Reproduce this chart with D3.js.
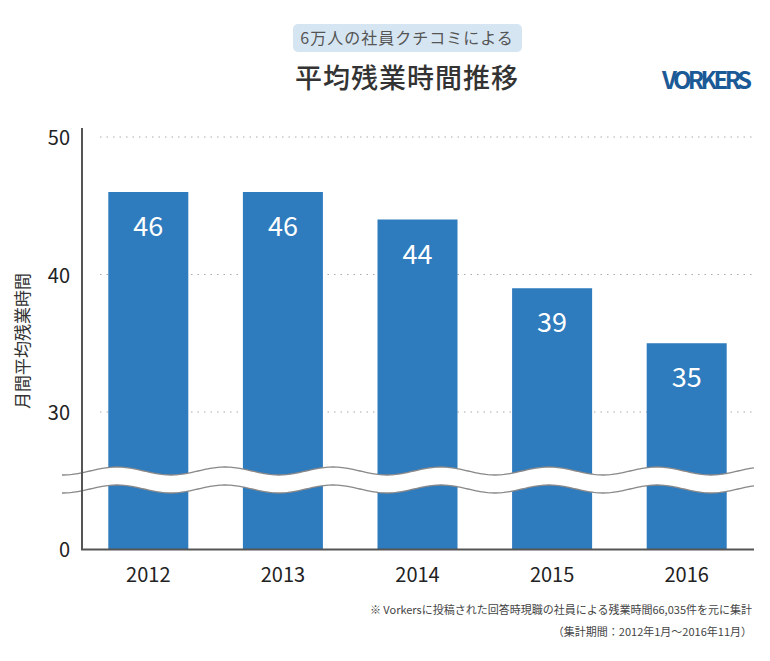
<!DOCTYPE html>
<html><head><meta charset="utf-8">
<script src="https://cdn.jsdelivr.net/npm/d3@7"></script>
<style>body{margin:0;background:#fff}text{font-family:"Noto Sans CJK JP","Noto Sans",sans-serif}</style>
</head><body><svg id="c" width="770" height="661"></svg>
<script>
var years = ['2012', '2013', '2014', '2015', '2016'];
var hours = [46, 46, 44, 39, 35];
var yTicks = [30, 40, 50];

var svg = d3.select('#c');
var x = d3.scalePoint().domain(years).range([81, 754]).padding(0.5);
var y = d3.scaleLinear().domain([20, 50]).range([549.5, 137]);
var barW = 80;

// header
svg.append('rect').attr('x', 293).attr('y', 24).attr('width', 229).attr('height', 28).attr('rx', 5).attr('fill', '#d6e5f2');
svg.append('text').attr('x', 407).attr('y', 44).attr('text-anchor', 'middle').attr('font-size', 16).attr('fill', '#555').attr('letter-spacing', 1).text('6万人の社員クチコミによる');
svg.append('text').attr('x', 407).attr('y', 88).attr('text-anchor', 'middle').attr('font-size', 27).attr('font-weight', 500).attr('fill', '#333').attr('letter-spacing', 1).text('平均残業時間推移');
svg.append('text').attr('x', 752).attr('y', 89).attr('text-anchor', 'end').attr('font-size', 24).attr('font-weight', 'bold').attr('fill', '#1b5a96')
  .attr('font-family', 'Liberation Sans Narrow, sans-serif').attr('textLength', 90).attr('lengthAdjust', 'spacing').text('VORKERS');

// grid
svg.selectAll('.grid').data(yTicks).enter().append('line')
  .attr('x1', 100).attr('x2', 754).attr('y1', function (d) { return y(d); }).attr('y2', function (d) { return y(d); })
  .attr('stroke', '#aaa').attr('stroke-dasharray', '1.5,5');

// bars
svg.selectAll('.bar').data(hours).enter().append('rect')
  .attr('x', function (d, i) { return x(years[i]) - barW / 2; })
  .attr('y', function (d) { return y(d); })
  .attr('width', barW)
  .attr('height', function (d) { return y(20) - y(d); })
  .attr('fill', '#2e7bbd');
svg.selectAll('.val').data(hours).enter().append('text')
  .attr('x', function (d, i) { return x(years[i]); })
  .attr('y', function (d) { return y(d) + 44; })
  .attr('text-anchor', 'middle').attr('font-size', 27).attr('fill', '#fff')
  .attr('font-family', 'Open Sans, sans-serif').text(function (d) { return d; });

// axis break
function wave(y0) {
  return d3.range(62, 756, 2).map(function (px) { return [px, y0 + 4 * Math.cos((px - 63) / 108 * 2 * Math.PI)]; });
}
var upper = wave(471), lower = wave(489);
svg.append('path').attr('d', d3.line()(upper.concat(lower.slice().reverse())) + 'Z').attr('fill', '#fff');
[upper, lower].forEach(function (p) {
  svg.append('path').attr('d', d3.line()(p)).attr('fill', 'none').attr('stroke', '#888').attr('stroke-width', 1.3);
});

// axes
svg.append('line').attr('x1', 82).attr('x2', 82).attr('y1', 128).attr('y2', 549.5).attr('stroke', '#555').attr('stroke-width', 2);
svg.append('line').attr('x1', 81).attr('x2', 754).attr('y1', 549.5).attr('y2', 549.5).attr('stroke', '#555').attr('stroke-width', 2);
svg.selectAll('.yl').data(yTicks).enter().append('text')
  .attr('x', 70).attr('y', function (d) { return y(d) + 8; }).attr('text-anchor', 'end')
  .attr('font-size', 20).attr('fill', '#222').attr('font-family', 'Open Sans, sans-serif').text(function (d) { return d; });
svg.append('text').attr('x', 70).attr('y', 557).attr('text-anchor', 'end').attr('font-size', 20).attr('fill', '#222').attr('font-family', 'Open Sans, sans-serif').text('0');
svg.selectAll('.xl').data(years).enter().append('text')
  .attr('x', function (d) { return x(d); }).attr('y', 582).attr('text-anchor', 'middle')
  .attr('font-size', 20).attr('fill', '#222').attr('font-family', 'Open Sans, sans-serif').text(function (d) { return d; });
svg.append('text').attr('transform', 'translate(29,341) rotate(-90)').attr('text-anchor', 'middle').attr('font-size', 17).attr('fill', '#333').text('月間平均残業時間');

// notes
svg.append('text').attr('x', 752).attr('y', 614).attr('text-anchor', 'end').attr('font-size', 11).attr('fill', '#444').text('※ Vorkersに投稿された回答時現職の社員による残業時間66,035件を元に集計');
svg.append('text').attr('x', 752).attr('y', 636).attr('text-anchor', 'end').attr('font-size', 11).attr('fill', '#444').text('（集計期間：2012年1月〜2016年11月）');
</script></body></html>
